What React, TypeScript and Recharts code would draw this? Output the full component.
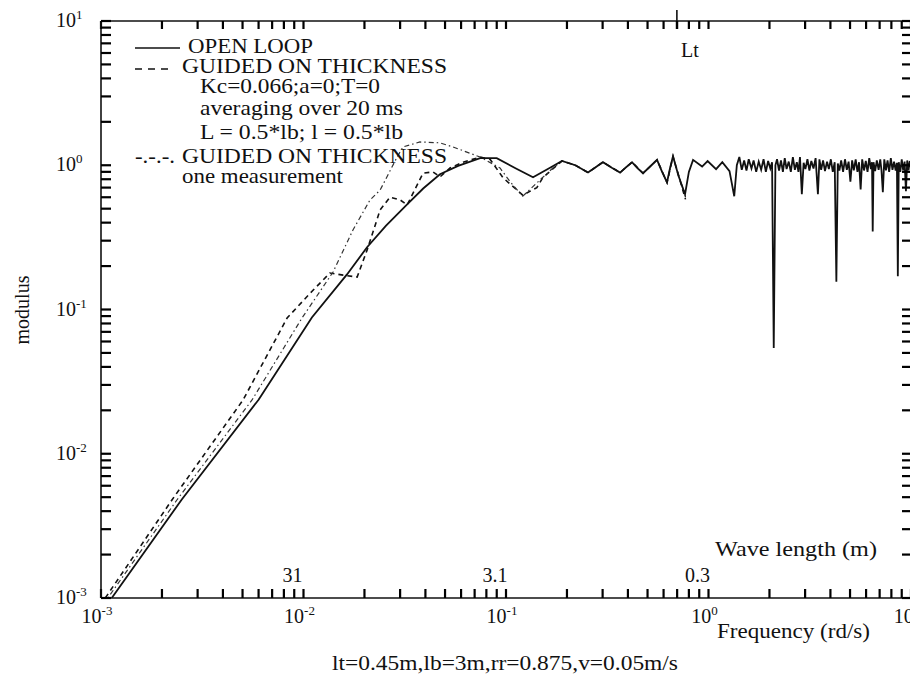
import {LineChart, Line, XAxis, YAxis} from 'recharts';

// frequency (rd/s) / modulus
const openFreq = [
  0.00113, 0.0025, 0.006, 0.011, 0.0164, 0.0206, 0.0255, 0.0325, 0.039, 0.0472, 0.058, 0.0745,
  0.09, 0.112, 0.136, 0.165, 0.189, 0.22, 0.254, 0.277, 0.301, 0.333, 0.366, 0.392, 0.419, 0.447,
  0.475, 0.515, 0.557, 0.59, 0.624, 0.645, 0.668, 0.71, 0.766, 0.8, 0.839, 0.93, 0.99, 1.09, 1.17,
  1.27, 1.34, 1.38, 1.42, 1.46, 1.5, 1.54, 1.58, 1.63, 1.67, 1.72, 1.77, 1.82, 1.87, 1.92, 1.97,
  2.02, 2.06, 2.1, 2.14, 2.18, 2.23, 2.28, 2.33, 2.38, 2.43, 2.49, 2.55, 2.61, 2.67, 2.73, 2.78,
  2.83, 2.89, 2.95, 3.01, 3.08, 3.15, 3.22, 3.3, 3.38, 3.47, 3.53, 3.6, 3.68, 3.76, 3.85, 3.93,
  4.02, 4.11, 4.2, 4.28, 4.35, 4.43, 4.52, 4.62, 4.72, 4.82, 4.92, 5.02, 5.12, 5.22, 5.33, 5.44,
  5.54, 5.64, 5.74, 5.86, 5.98, 6.1, 6.22, 6.34, 6.42, 6.47, 6.53, 6.65, 6.78, 6.92, 7.05, 7.15,
  7.26, 7.38, 7.52, 7.66, 7.8, 7.95, 8.1, 8.25, 8.4, 8.52, 8.61, 8.7, 8.85, 9.0, 9.15, 9.3, 9.44,
  9.58, 9.72, 9.86, 10,
];
const openMod = [
  0.001, 0.0048, 0.0237, 0.088, 0.175, 0.27, 0.38, 0.536, 0.69, 0.866, 0.99, 1.12,
  1.12, 0.95, 0.826, 0.96, 1.07, 1.0, 0.89, 0.97, 1.05, 0.96, 0.89, 0.97, 1.05, 0.95,
  0.88, 0.98, 1.09, 0.9, 0.76, 0.95, 1.155, 0.85, 0.63, 0.9, 1.09, 0.98, 1.07, 0.94, 1.05,
  0.91, 0.61, 1.0, 1.14, 0.93, 1.08, 0.92, 1.1, 0.95, 1.08, 0.9, 1.06, 0.93, 1.1, 0.9, 1.07,
  0.95, 1.05, 0.054, 1.0, 1.1, 0.92, 1.08, 0.9, 1.12, 0.94, 1.06, 0.9, 1.14, 0.93, 1.05, 0.9,
  1.14, 0.63, 1.04, 0.94, 1.1, 0.92, 1.07, 0.95, 1.12, 0.63, 1.1, 0.93, 1.08, 0.91, 1.06, 0.94,
  1.1, 0.9, 1.05, 0.156, 1.03, 0.92, 1.08, 0.9, 1.1, 0.93, 1.06, 0.77, 1.08, 0.92, 1.1, 0.9,
  1.05, 0.68, 1.1, 0.92, 1.07, 0.9, 1.12, 0.94, 1.05, 0.348, 1.05, 0.91, 1.08, 0.93, 1.1, 0.92,
  0.65, 1.1, 0.92, 1.08, 0.9, 1.12, 0.93, 1.06, 0.92, 1.04, 0.17, 1.05, 0.9, 1.1, 0.92, 1.06, 0.66,
  1.08, 0.92, 1.07, 0.97,
];

const avgFreq = [
  0.00105, 0.00224, 0.00503, 0.0083, 0.0108, 0.0135, 0.0157, 0.0184, 0.0206, 0.0239, 0.0267, 0.03,
  0.0325, 0.0389, 0.0436, 0.0472, 0.0529, 0.0614, 0.0745, 0.0834, 0.0966, 0.121, 0.142, 0.152,
  0.189, 0.22, 0.254, 0.301, 0.366, 0.419, 0.475, 0.557, 0.624, 0.668, 0.77,
];
const avgMod = [
  0.001, 0.00478, 0.0236, 0.0873, 0.13, 0.179, 0.173, 0.168, 0.258, 0.49, 0.6, 0.575,
  0.53, 0.88, 0.9, 0.83, 0.957, 1.05, 1.14, 1.1, 0.82, 0.62, 0.7, 0.82,
  1.07, 1.0, 0.89, 1.05, 0.89, 1.05, 0.88, 1.09, 0.76, 1.15, 0.58,
];

const oneFreq = [
  0.00108, 0.00237, 0.00557, 0.00983, 0.014, 0.01755, 0.0213, 0.0239, 0.029, 0.031, 0.0376, 0.0472,
  0.0547, 0.0745, 0.0934, 0.105, 0.121, 0.147, 0.171, 0.189, 0.22, 0.254, 0.301, 0.366, 0.419,
  0.475, 0.557, 0.624, 0.668, 0.77,
];
const oneMod = [
  0.001, 0.00478, 0.0236, 0.0873, 0.182, 0.356, 0.574, 0.673, 1.14, 1.34, 1.45, 1.43,
  1.34, 1.14, 0.957, 0.766, 0.61, 0.79, 0.96, 1.07, 1.0, 0.89, 1.05, 0.89, 1.05,
  0.88, 1.09, 0.76, 1.15, 0.6,
];

const decades = [0.001, 0.01, 0.1, 1, 10];
const decadeExp = ['-3', '-2', '-1', '0', '1'];
const minorSteps = [2, 3, 4, 5, 6, 7, 8, 9];
const waveFreqs = [0.01, 0.1, 1];
const waveLabels = ['31', '3.1', '0.3'];
const ltFreq = 0.698;

const W = 910;
const H = 667;
const INK = '#111';
const SERIF = '"Liberation Serif", "Times New Roman", serif';
const DOMAIN: [number, number] = [0.001, 10];

const logTicks = decades.flatMap((d, i) =>
  i < decades.length - 1 ? [d, ...minorSteps.map((k) => +(k * d).toPrecision(3))] : [d],
);
const topTicks = [...logTicks, ltFreq];

const zip = (f: number[], m: number[]) => f.map((v, i) => ({f: v, m: m[i]}));
const openLoop = zip(openFreq, openMod);
const guidedAvg = zip(avgFreq, avgMod);
const guidedOne = zip(oneFreq, oneMod);

const tickStroke = {stroke: '#000', strokeWidth: 2.2};

function BottomLabel(props: any) {
  const {x, y, payload} = props;
  const di = decades.indexOf(payload.value);
  const wi = waveFreqs.indexOf(payload.value);
  return (
    <g>
      {di >= 0 && (
        <text x={x - 4} y={y + 25} textAnchor="middle" fontSize={20} fill={INK} fontFamily={SERIF}>
          10<tspan dy={-8} fontSize={13}>{decadeExp[di]}</tspan>
        </text>
      )}
      {wi >= 0 && (
        <text x={x - 11} y={y - 16} textAnchor="middle" fontSize={20} fill={INK} fontFamily={SERIF}>
          {waveLabels[wi]}
        </text>
      )}
    </g>
  );
}

function TopMark(props: any) {
  const {x, y, payload} = props;
  if (payload.value !== ltFreq) return <g />;
  return (
    <g>
      <line x1={x} x2={x} y1={y - 11} y2={y} stroke={INK} strokeWidth={1.6} />
      <text x={x + 13} y={y + 36} textAnchor="middle" fontSize={20} fill={INK} fontFamily={SERIF}>
        Lt
      </text>
    </g>
  );
}

function LeftLabel(props: any) {
  const {x, y, payload} = props;
  const di = decades.indexOf(payload.value);
  if (di < 0) return <g />;
  return (
    <text x={x - 45} y={y + 6} textAnchor="start" fontSize={20} fill={INK} fontFamily={SERIF}>
      10<tspan dy={-8} fontSize={13}>{decadeExp[di]}</tspan>
    </text>
  );
}

const txt = {fontSize: 21, fill: INK, fontFamily: SERIF};

export default function App() {
  return (
    <div style={{position: 'relative', width: W, height: H, background: '#fff'}}>
      <LineChart width={W} height={H} margin={{top: 12, right: 6, bottom: 0, left: 0}}>
        <XAxis
          xAxisId="b"
          dataKey="f"
          type="number"
          scale="log"
          domain={DOMAIN}
          allowDataOverflow
          ticks={logTicks}
          interval={0}
          tick={(p: any) => <BottomLabel {...p} />}
          tickLine={tickStroke}
          tickSize={-9}
          tickMargin={9}
          height={77}
          axisLine={{stroke: INK, strokeWidth: 1.6}}
        />
        <XAxis
          xAxisId="t"
          orientation="top"
          dataKey="f"
          type="number"
          scale="log"
          domain={DOMAIN}
          allowDataOverflow
          ticks={topTicks}
          interval={0}
          tick={(p: any) => <TopMark {...p} />}
          tickLine={tickStroke}
          tickSize={-8}
          tickMargin={8}
          height={1}
          axisLine={{stroke: INK, strokeWidth: 1.6}}
        />
        <YAxis
          yAxisId="l"
          type="number"
          scale="log"
          domain={DOMAIN}
          allowDataOverflow
          ticks={logTicks}
          interval={0}
          tick={(p: any) => <LeftLabel {...p} />}
          tickLine={tickStroke}
          tickSize={-10}
          tickMargin={10}
          width={93}
          axisLine={{stroke: INK, strokeWidth: 1.6}}
        />
        <YAxis
          yAxisId="r"
          orientation="right"
          type="number"
          scale="log"
          domain={DOMAIN}
          allowDataOverflow
          ticks={logTicks}
          interval={0}
          tick={() => <g />}
          tickLine={tickStroke}
          tickSize={-9}
          tickMargin={9}
          width={1}
          axisLine={{stroke: INK, strokeWidth: 1.6}}
        />
        <Line
          xAxisId="b"
          yAxisId="l"
          data={guidedAvg}
          dataKey="m"
          type="linear"
          stroke={INK}
          strokeWidth={1.6}
          strokeDasharray="5 4"
          dot={false}
          isAnimationActive={false}
        />
        <Line
          xAxisId="b"
          yAxisId="l"
          data={guidedOne}
          dataKey="m"
          type="linear"
          stroke="#333"
          strokeWidth={1.2}
          strokeDasharray="1.5 3 5 3"
          dot={false}
          isAnimationActive={false}
        />
        <Line
          xAxisId="b"
          yAxisId="l"
          data={openLoop}
          dataKey="m"
          type="linear"
          stroke={INK}
          strokeWidth={1.8}
          dot={false}
          isAnimationActive={false}
        />
      </LineChart>
      <svg width={W} height={H} style={{position: 'absolute', left: 0, top: 0, pointerEvents: 'none'}}>
        <line x1={127} x2={172} y1={40} y2={40} stroke={INK} strokeWidth={1.5} />
        <text x={180} y={45} {...txt} textLength={125} lengthAdjust="spacingAndGlyphs">OPEN LOOP</text>
        <line x1={127} x2={165} y1={61} y2={61} stroke={INK} strokeWidth={1.5} strokeDasharray="7 6" />
        <text x={174} y={65} {...txt} textLength={265} lengthAdjust="spacingAndGlyphs">GUIDED ON THICKNESS</text>
        <text x={192} y={85} {...txt} textLength={180} lengthAdjust="spacingAndGlyphs">Kc=0.066;a=0;T=0</text>
        <text x={192} y={107} {...txt} textLength={203} lengthAdjust="spacingAndGlyphs">averaging over 20 ms</text>
        <text x={192} y={131} {...txt} textLength={203} lengthAdjust="spacingAndGlyphs">L = 0.5*lb; l = 0.5*lb</text>
        <text x={127} y={155} {...txt} textLength={40} lengthAdjust="spacingAndGlyphs">-.-.-.</text>
        <text x={174} y={155} {...txt} textLength={265} lengthAdjust="spacingAndGlyphs">GUIDED ON THICKNESS</text>
        <text x={174} y={175} {...txt} textLength={161} lengthAdjust="spacingAndGlyphs">one measurement</text>
        <text x={707} y={548} {...txt} textLength={162} lengthAdjust="spacingAndGlyphs">Wave length (m)</text>
        <text x={709} y={630} {...txt} textLength={153} lengthAdjust="spacingAndGlyphs">Frequency (rd/s)</text>
        <text x={324} y={662} {...txt} textLength={346} lengthAdjust="spacingAndGlyphs">
          lt=0.45m,lb=3m,rr=0.875,v=0.05m/s
        </text>
        <text x={21} y={302} {...txt} fontSize={20} textAnchor="middle" transform="rotate(-90 21 302)">
          modulus
        </text>
      </svg>
    </div>
  );
}
